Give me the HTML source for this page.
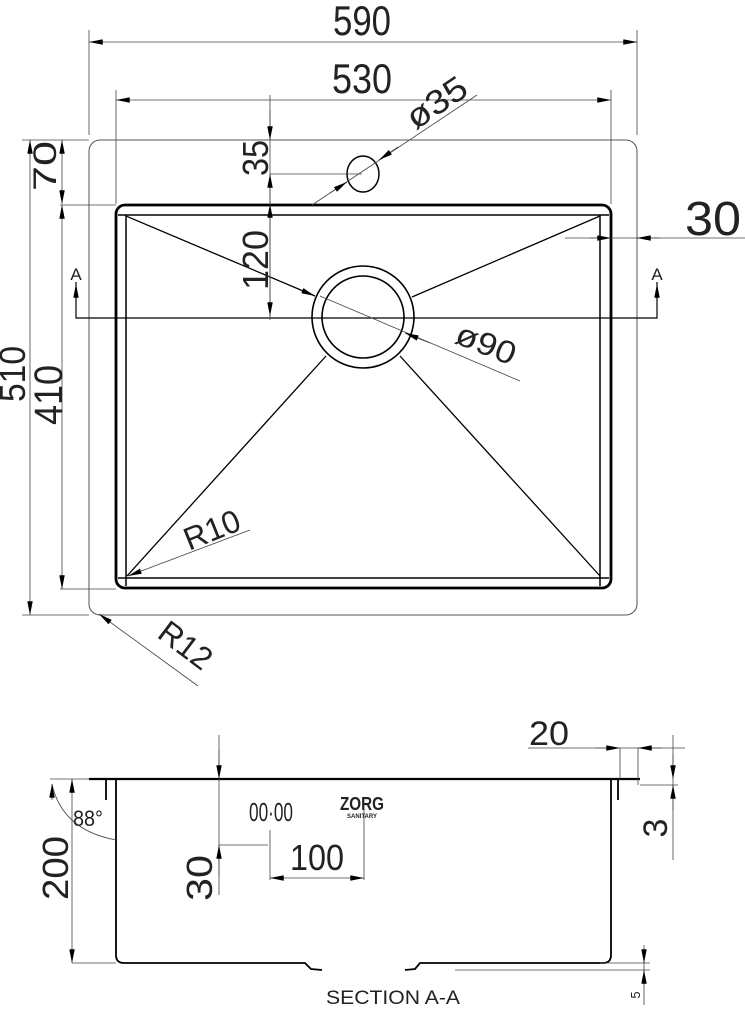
<!DOCTYPE html>
<html><head><meta charset="utf-8"><style>
html,body{margin:0;padding:0;background:#fff;}
svg{display:block;}
text{font-family:"Liberation Sans Narrow","Liberation Sans",sans-serif;fill:#222;}
</style></head><body>
<svg width="745" height="1010" viewBox="0 0 745 1010" xmlns="http://www.w3.org/2000/svg">
<defs>
<marker id="a" viewBox="0 0 10 4" refX="10" refY="2" markerWidth="14" markerHeight="5.5" orient="auto-start-reverse" markerUnits="userSpaceOnUse"><path d="M0,0L10,2L0,4z" fill="#000"/></marker>
</defs>
<g fill="none" stroke="#000">
<rect x="89" y="140" width="548" height="475" rx="11" stroke-width="1" stroke="#555"/>
<rect x="116" y="205" width="495" height="383" rx="9" stroke-width="2.8"/>
<line x1="118" y1="215" x2="609" y2="215" stroke-width="1.5"/>
<line x1="118" y1="578" x2="609" y2="578" stroke-width="1.5"/>
<line x1="126" y1="215" x2="126" y2="586" stroke-width="1.5"/>
<line x1="600" y1="215" x2="600" y2="586" stroke-width="1.5"/>
<circle cx="363" cy="317" r="51" stroke-width="1.6"/>
<circle cx="363" cy="317" r="41" stroke-width="1.6"/>
<line x1="126" y1="216" x2="315" y2="296" stroke-width="1.3" marker-end="url(#a)"/>
<line x1="600" y1="216" x2="412" y2="297" stroke-width="1.3"/>
<line x1="127" y1="576" x2="326" y2="356" stroke-width="1.3"/>
<line x1="600" y1="576" x2="400" y2="356" stroke-width="1.3"/>
<ellipse cx="363" cy="174" rx="16" ry="18" stroke-width="1.5"/>
<path d="M76,282 L76,318 L657,318 L657,282" stroke-width="1.2"/>
<line x1="76" y1="318" x2="76" y2="284" marker-end="url(#a)" stroke-width="1"/>
<line x1="657" y1="318" x2="657" y2="284" marker-end="url(#a)" stroke-width="1"/>
</g>
<g fill="none" stroke="#444" stroke-width="0.8">
<line x1="89" y1="30" x2="89" y2="135"/><line x1="637" y1="30" x2="637" y2="135"/>
<line x1="89" y1="42" x2="637" y2="42" marker-start="url(#a)" marker-end="url(#a)"/>
<line x1="116" y1="90" x2="116" y2="204"/><line x1="611" y1="90" x2="611" y2="204"/>
<line x1="116" y1="100" x2="611" y2="100" marker-start="url(#a)" marker-end="url(#a)"/>
<line x1="270" y1="95" x2="270" y2="320"/>
<line x1="270" y1="110" x2="270" y2="140" marker-end="url(#a)"/>
<line x1="270" y1="204" x2="270" y2="174" marker-end="url(#a)"/>
<line x1="270" y1="204" x2="270" y2="316" marker-start="url(#a)" marker-end="url(#a)"/>
<line x1="270" y1="174" x2="362" y2="174"/>
<line x1="312" y1="205" x2="477" y2="95"/>
<line x1="330" y1="193" x2="347" y2="182" marker-end="url(#a)"/>
<line x1="398" y1="147" x2="379" y2="160" marker-end="url(#a)"/>
<line x1="320" y1="296" x2="520" y2="381"/>
<line x1="430" y1="343" x2="405" y2="333" marker-end="url(#a)"/>
<line x1="565" y1="238" x2="745" y2="238"/>
<line x1="590" y1="238" x2="611" y2="238" marker-end="url(#a)"/>
<line x1="660" y1="238" x2="637" y2="238" marker-end="url(#a)"/>
<line x1="22" y1="140" x2="89" y2="140"/><line x1="22" y1="615" x2="89" y2="615"/>
<line x1="60" y1="205" x2="116" y2="205"/><line x1="60" y1="589" x2="116" y2="589"/>
<line x1="30" y1="140" x2="30" y2="615" marker-start="url(#a)" marker-end="url(#a)"/>
<line x1="62" y1="140" x2="62" y2="204" marker-start="url(#a)" marker-end="url(#a)"/>
<line x1="62" y1="205" x2="62" y2="589" marker-start="url(#a)" marker-end="url(#a)"/>
<line x1="250" y1="530" x2="128" y2="576" marker-end="url(#a)"/>
<line x1="198" y1="686" x2="99" y2="614" marker-end="url(#a)"/>
</g>
<g font-size="42">
<text x="362" y="35" text-anchor="middle" textLength="58" lengthAdjust="spacingAndGlyphs">590</text>
<text x="362" y="93" text-anchor="middle" textLength="60" lengthAdjust="spacingAndGlyphs">530</text>
<text x="713" y="235" text-anchor="middle" textLength="56" lengthAdjust="spacingAndGlyphs" font-size="48">30</text>
<text transform="translate(268,158) rotate(-90)" text-anchor="middle" textLength="36" lengthAdjust="spacingAndGlyphs" font-size="36">35</text>
<text transform="translate(268,260) rotate(-90)" text-anchor="middle" textLength="60" lengthAdjust="spacingAndGlyphs" font-size="36">120</text>
<text transform="translate(56,166) rotate(-90)" text-anchor="middle" textLength="50" lengthAdjust="spacingAndGlyphs" font-size="32">70</text>
<text transform="translate(25,374) rotate(-90)" text-anchor="middle" textLength="56" lengthAdjust="spacingAndGlyphs" font-size="36">510</text>
<text transform="translate(62,395) rotate(-90)" text-anchor="middle" textLength="60" lengthAdjust="spacingAndGlyphs" font-size="40">410</text>
<text transform="translate(443,112) rotate(-34)" text-anchor="middle" textLength="66" lengthAdjust="spacingAndGlyphs" font-size="34">ø35</text>
<text transform="translate(482,354) rotate(22)" text-anchor="middle" textLength="62" lengthAdjust="spacingAndGlyphs" font-size="32">ø90</text>
<text transform="translate(216,540) rotate(-22)" text-anchor="middle" textLength="58" lengthAdjust="spacingAndGlyphs" font-size="32">R10</text>
<text transform="translate(179,654) rotate(37)" text-anchor="middle" textLength="58" lengthAdjust="spacingAndGlyphs" font-size="32">R12</text>
</g>
<g font-size="17">
<text x="76" y="280" text-anchor="middle">A</text>
<text x="657" y="280" text-anchor="middle">A</text>
</g>
<g fill="none" stroke="#000">
<line x1="89" y1="779" x2="640" y2="779" stroke-width="2.2"/>
<path d="M106,779 V800 M116,779 V955 Q116,963 124,963 H305 L311,969 L322,970" stroke-width="1.8"/>
<path d="M618,779 V800 M611,779 V955 Q611,963 603,963 H420 L415,969 L405,970" stroke-width="1.8"/>
</g>
<g fill="none" stroke="#444" stroke-width="0.8">
<line x1="50" y1="779" x2="89" y2="779"/>
<line x1="72" y1="779" x2="72" y2="963" marker-start="url(#a)" marker-end="url(#a)"/>
<line x1="72" y1="963" x2="116" y2="963"/>
<path d="M52,784 Q62,830 116,840"/>
<line x1="52" y1="800" x2="52" y2="784" marker-end="url(#a)"/>
<line x1="219" y1="735" x2="219" y2="895"/>
<line x1="219" y1="750" x2="219" y2="779" marker-end="url(#a)"/>
<line x1="219" y1="875" x2="219" y2="845" marker-end="url(#a)"/>
<line x1="219" y1="845" x2="268" y2="845"/>
<line x1="270" y1="830" x2="270" y2="880"/><line x1="364" y1="808" x2="364" y2="880"/>
<line x1="270" y1="878" x2="364" y2="878" marker-start="url(#a)" marker-end="url(#a)"/>
<line x1="528" y1="748" x2="685" y2="748"/>
<line x1="595" y1="748" x2="620" y2="748" marker-end="url(#a)"/>
<line x1="662" y1="748" x2="638" y2="748" marker-end="url(#a)"/>
<line x1="620" y1="748" x2="620" y2="779"/><line x1="638" y1="748" x2="638" y2="785"/>
<line x1="640" y1="785" x2="678" y2="785"/>
<line x1="673" y1="735" x2="673" y2="860"/>
<line x1="673" y1="755" x2="673" y2="779" marker-end="url(#a)"/>
<line x1="673" y1="810" x2="673" y2="785" marker-end="url(#a)"/>
<line x1="600" y1="963" x2="650" y2="963"/><line x1="455" y1="970" x2="650" y2="970"/>
<line x1="644" y1="945" x2="644" y2="1005"/>
<line x1="644" y1="950" x2="644" y2="963" marker-end="url(#a)"/>
<line x1="644" y1="985" x2="644" y2="970" marker-end="url(#a)"/>
</g>
<g font-size="36">
<text transform="translate(68,868) rotate(-90)" text-anchor="middle" textLength="64" lengthAdjust="spacingAndGlyphs">200</text>
<text transform="translate(212,878) rotate(-90)" text-anchor="middle" textLength="46" lengthAdjust="spacingAndGlyphs">30</text>
<text x="317" y="870" text-anchor="middle" textLength="54" lengthAdjust="spacingAndGlyphs">100</text>
<text x="549" y="745" text-anchor="middle" textLength="40" lengthAdjust="spacingAndGlyphs" font-size="34">20</text>
<text transform="translate(667,828) rotate(-90)" text-anchor="middle" font-size="34">3</text>
</g>
<text x="88" y="826" text-anchor="middle" font-size="22" textLength="30" lengthAdjust="spacingAndGlyphs">88°</text>
<text x="271" y="821" text-anchor="middle" font-size="26" textLength="44" lengthAdjust="spacingAndGlyphs">00·00</text>
<text x="362" y="810" text-anchor="middle" font-size="18" font-weight="bold" textLength="44" lengthAdjust="spacingAndGlyphs">ZORG</text>
<text x="362" y="818" text-anchor="middle" font-size="6" font-weight="bold">SANITARY</text>
<text transform="translate(640,995) rotate(-90)" text-anchor="middle" font-size="13">5</text>
<text x="393" y="1004" text-anchor="middle" font-size="19" textLength="134" lengthAdjust="spacingAndGlyphs">SECTION A-A</text>
</svg>
</body></html>
